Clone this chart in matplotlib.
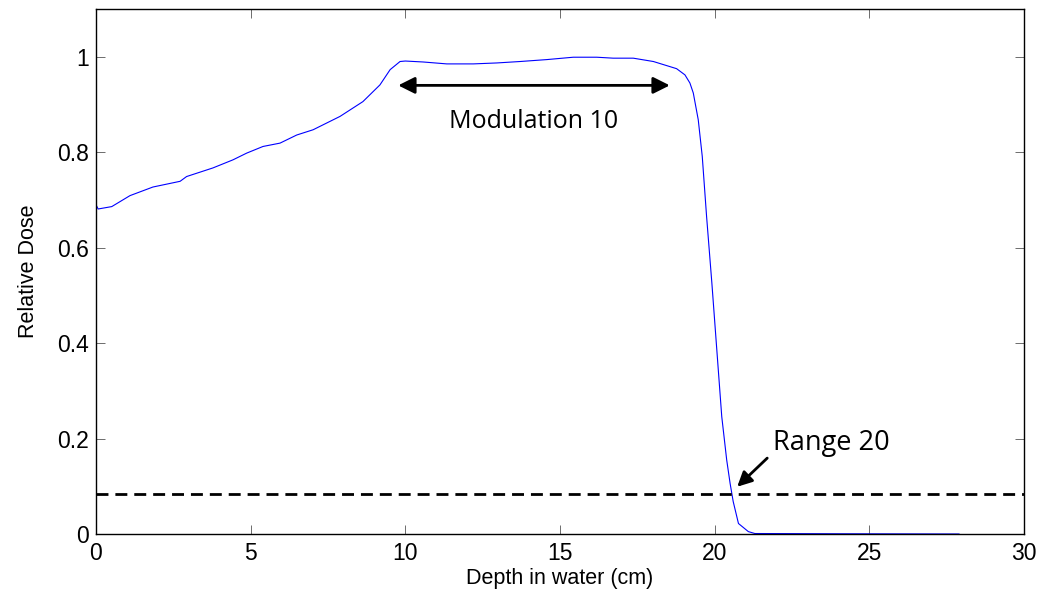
import matplotlib
matplotlib.use("Agg")
import matplotlib.pyplot as plt

depth = [0.0, 0.07, 0.51, 1.10, 1.84, 2.72, 2.93, 3.78, 4.43, 4.87, 5.40, 5.95, 6.49,
         7.02, 7.89, 8.63, 9.18, 9.51, 9.83, 10.0, 10.58, 11.34, 12.20, 12.96, 13.71,
         14.57, 15.43, 16.19, 16.72, 17.37, 18.02, 18.77, 19.04, 19.20, 19.31, 19.47,
         19.60, 19.74, 19.91, 20.07, 20.23, 20.39, 20.50, 20.60, 20.77, 21.09, 21.30,
         24.0, 27.90]
dose = [0.69, 0.681, 0.686, 0.709, 0.727, 0.739, 0.749, 0.767, 0.784, 0.798, 0.812,
        0.819, 0.836, 0.847, 0.875, 0.906, 0.941, 0.973, 0.990, 0.991, 0.989, 0.985,
        0.985, 0.987, 0.990, 0.994, 0.999, 0.999, 0.997, 0.997, 0.990, 0.975, 0.962,
        0.945, 0.924, 0.868, 0.791, 0.665, 0.526, 0.386, 0.246, 0.155, 0.106, 0.068,
        0.022, 0.005, 0.001, 0.0005, 0.0]
range_level = 0.084
x_ticks = [0, 5, 10, 15, 20, 25, 30]
y_ticks = [0, 0.2, 0.4, 0.6, 0.8, 1.0]
y_tick_labels = ["0", "0.2", "0.4", "0.6", "0.8", "1"]
mod_start, mod_end, mod_y = 9.77, 18.55, 0.94
range_depth = 20.55

fig = plt.figure(figsize=(10.42, 5.93), dpi=100)
ax = fig.add_axes([0.0921, 0.0995, 0.8906, 0.8853])

ax.plot(depth, dose, color=(0, 0, 1), lw=0.8)
ax.axhline(range_level, color="black", lw=2, linestyle=(0, (4.3, 2.5)))

ax.set_xlim(0, 30)
ax.set_ylim(0, 1.1)
ax.set_xticks(x_ticks)
ax.set_xticklabels([str(t) for t in x_ticks], family="Liberation Sans", fontsize=16.5)
ax.set_yticks(y_ticks)
ax.set_yticklabels(y_tick_labels, family="Liberation Sans", fontsize=16.5)
ax.tick_params(direction="in", length=6.5, width=0.6, color="#555555",
               top=True, right=True)
ax.tick_params(axis="x", pad=6)
ax.tick_params(axis="y", pad=5)
for s in ax.spines.values():
    s.set_linewidth(1.0)
    s.set_color("black")

ax.set_xlabel("Depth in water (cm)", family="Liberation Sans", fontsize=15.5, labelpad=2)
ax.set_ylabel("Relative Dose", family="Liberation Sans", fontsize=15.5, labelpad=13)

ax.annotate("", xy=(mod_start, mod_y), xytext=(mod_end, mod_y),
            arrowprops=dict(arrowstyle="<|-|>", color="black", lw=2,
                            mutation_scale=25, shrinkA=0, shrinkB=0))
ax.text((mod_start + mod_end) / 2, 0.864, "Modulation 10", family="Open Sans",
        fontsize=18, ha="center", va="center")

ax.annotate("", xy=(range_depth + 0.18, range_level + 0.015), xytext=(21.7, 0.159),
            arrowprops=dict(arrowstyle="-|>", color="black", lw=2,
                            mutation_scale=22, shrinkA=0, shrinkB=0))
ax.text(21.9, 0.19, "Range 20", family="Open Sans", fontsize=19.5,
        ha="left", va="center")

fig.savefig("out.png", dpi=100)
